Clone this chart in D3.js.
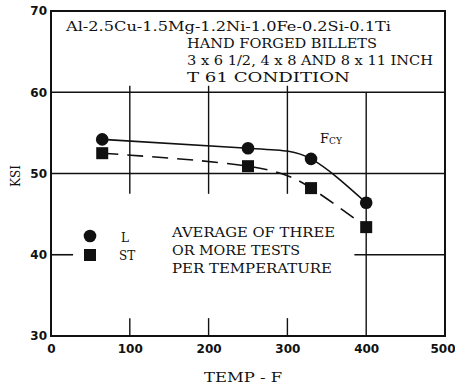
<!DOCTYPE html>
<html>
<head>
<meta charset="utf-8">
<script src="https://cdn.jsdelivr.net/npm/d3@7"></script>
<style>
  html, body { margin: 0; padding: 0; background: #fff; }
  svg text { font-family: "DejaVu Serif", "Liberation Serif", serif; fill: #111; }
</style>
</head>
<body>
<svg id="chart" width="455" height="387"></svg>
<script>
// Compressive yield strength (Fcy) vs temperature, hand forged billets
const tempsL  = [65, 250, 330, 400];
const ksiL    = [54.2, 53.1, 51.8, 46.4];
const tempsST = [65, 250, 330, 400];
const ksiST   = [52.5, 50.9, 48.2, 43.4];
const xTicks  = [0, 100, 200, 300, 400, 500];
const yTicks  = [30, 40, 50, 60, 70];
const titleLines = [
  "Al-2.5Cu-1.5Mg-1.2Ni-1.0Fe-0.2Si-0.1Ti",
  "HAND FORGED BILLETS",
  "3 x 6 1/2, 4 x 8 AND 8 x 11 INCH",
  "T 61 CONDITION"
];
const noteLines = ["AVERAGE OF THREE", "OR MORE TESTS", "PER TEMPERATURE"];

const svg = d3.select("#chart");
const x = d3.scaleLinear().domain([0, 500]).range([51, 445]);
const y = d3.scaleLinear().domain([30, 70]).range([336, 11]);
const ink = "#111";

// grid: full horizontal lines at 60 and 50, partial line at 40
[60, 50].forEach(v => {
  svg.append("line").attr("x1", x(0)).attr("x2", x(500))
    .attr("y1", y(v)).attr("y2", y(v))
    .attr("stroke", ink).attr("stroke-width", 1.6);
});
svg.append("line").attr("x1", x(0)).attr("x2", x(28))
  .attr("y1", y(40)).attr("y2", y(40)).attr("stroke", ink).attr("stroke-width", 1.6);
svg.append("line").attr("x1", x(385)).attr("x2", x(500))
  .attr("y1", y(40)).attr("y2", y(40)).attr("stroke", ink).attr("stroke-width", 1.6);

// vertical grid segments
[100, 200, 300].forEach(v => {
  svg.append("line").attr("x1", x(v)).attr("x2", x(v))
    .attr("y1", y(60.8)).attr("y2", y(47.5))
    .attr("stroke", ink).attr("stroke-width", 1.4);
  svg.append("line").attr("x1", x(v)).attr("x2", x(v))
    .attr("y1", y(32.2)).attr("y2", y(30))
    .attr("stroke", ink).attr("stroke-width", 1.4);
});
svg.append("line").attr("x1", x(400)).attr("x2", x(400))
  .attr("y1", y(60)).attr("y2", y(30))
  .attr("stroke", ink).attr("stroke-width", 1.4);

// plot frame
svg.append("rect").attr("x", x(0)).attr("y", y(70))
  .attr("width", x(500) - x(0)).attr("height", y(30) - y(70))
  .attr("fill", "none").attr("stroke", ink).attr("stroke-width", 2);

// axes tick labels
const xAxis = d3.axisBottom(x).tickValues(xTicks).tickSize(0).tickPadding(8);
const gx = svg.append("g").attr("transform", `translate(0,${y(30)})`).call(xAxis);
gx.select(".domain").remove();
gx.selectAll("text").attr("font-size", 12).attr("font-weight", "bold")
  .style("font-family", "'DejaVu Sans', sans-serif");
gx.selectAll(".tick").filter(d => d === 500).select("text")
  .attr("text-anchor", "end").attr("x", 10);

const yAxis = d3.axisLeft(y).tickValues(yTicks).tickSize(0).tickPadding(4);
const gy = svg.append("g").attr("transform", `translate(${x(0)},0)`).call(yAxis);
gy.select(".domain").remove();
gy.selectAll("text").attr("font-size", 12).attr("font-weight", "bold")
  .style("font-family", "'DejaVu Sans', sans-serif");

// axis titles
svg.append("text").attr("x", 243).attr("y", 382).attr("text-anchor", "middle")
  .attr("font-size", 12).attr("textLength", 78).attr("lengthAdjust", "spacingAndGlyphs")
  .text("TEMP - F");
svg.append("text").attr("transform", `translate(20,176) rotate(-90)`)
  .attr("text-anchor", "middle").attr("font-size", 12).attr("textLength", 22)
  .attr("lengthAdjust", "spacingAndGlyphs").text("KSI");

// curves
const line = d3.line().x(d => x(d[0])).y(d => y(d[1])).curve(d3.curveNatural);
const ptsL = tempsL.map((t, i) => [t, ksiL[i]]);
const ptsST = tempsST.map((t, i) => [t, ksiST[i]]);
svg.append("path").attr("d", line(ptsL)).attr("fill", "none")
  .attr("stroke", ink).attr("stroke-width", 1.6);
svg.append("path").attr("d", line(ptsST)).attr("fill", "none")
  .attr("stroke", ink).attr("stroke-width", 1.6).attr("stroke-dasharray", "16,9");

// markers
svg.selectAll("circle.l").data(ptsL).join("circle").attr("class", "l")
  .attr("cx", d => x(d[0])).attr("cy", d => y(d[1])).attr("r", 6.3).attr("fill", ink);
svg.selectAll("rect.st").data(ptsST).join("rect").attr("class", "st")
  .attr("x", d => x(d[0]) - 6).attr("y", d => y(d[1]) - 6)
  .attr("width", 12).attr("height", 12).attr("fill", ink);

// legend
svg.append("circle").attr("cx", 90).attr("cy", 236).attr("r", 6.3).attr("fill", ink);
svg.append("rect").attr("x", 84).attr("y", 249).attr("width", 12).attr("height", 12).attr("fill", ink);
svg.append("text").attr("x", 121).attr("y", 242).attr("font-size", 12).text("L");
svg.append("text").attr("x", 119).attr("y", 260).attr("font-size", 12).text("ST");

// curve label
const fcy = svg.append("text").attr("x", 320).attr("y", 143).attr("font-size", 13);
fcy.append("tspan").text("F");
fcy.append("tspan").attr("font-size", 9).attr("dy", 1).text("CY");

// header block
const titleX = [66, 187, 187, 187];
const titleY = [31, 48, 65, 82];
const titleW = [325, 190, 246, 163];
titleLines.forEach((t, i) => {
  svg.append("text").attr("x", titleX[i]).attr("y", titleY[i])
    .attr("font-size", 12).attr("textLength", titleW[i])
    .attr("lengthAdjust", "spacingAndGlyphs").text(t);
});

// note block
const noteY = [237, 255, 273];
const noteW = [163, 128, 160];
noteLines.forEach((t, i) => {
  svg.append("text").attr("x", 172).attr("y", noteY[i])
    .attr("font-size", 12).attr("textLength", noteW[i])
    .attr("lengthAdjust", "spacingAndGlyphs").text(t);
});
</script>
</body>
</html>
